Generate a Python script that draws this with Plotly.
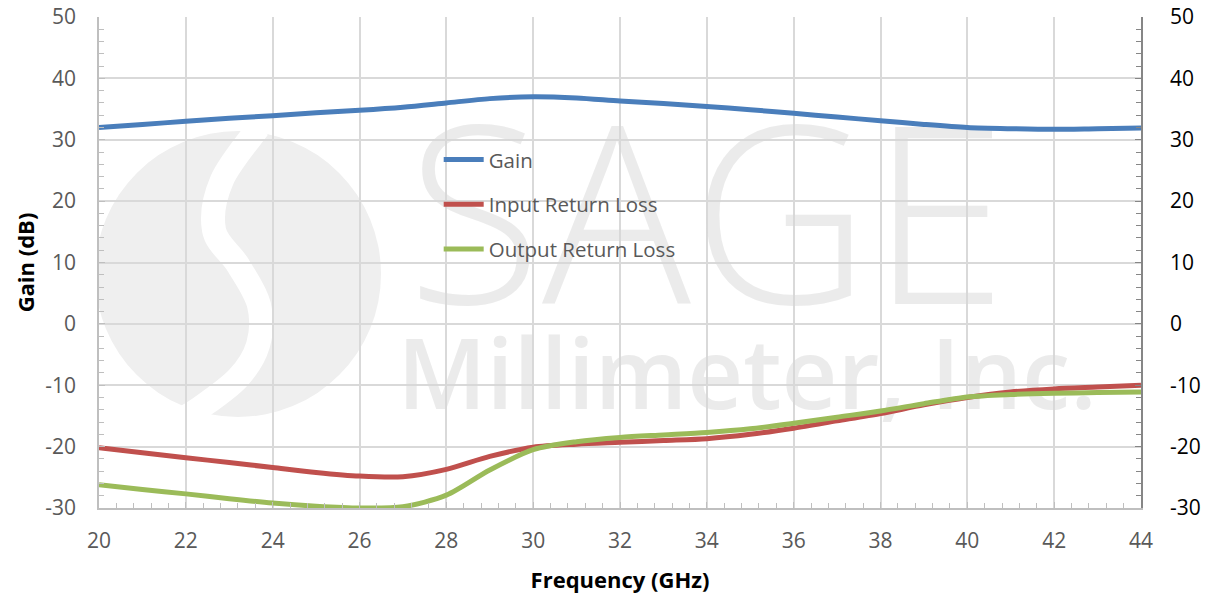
import plotly.graph_objects as go

freq = [20, 21, 22, 23, 24, 25, 26, 27, 28, 29, 30, 31, 32, 33, 34, 35, 36, 37, 38, 39, 40, 41, 42, 43, 44]
gain = [32.0, 32.5, 33.0, 33.5, 33.9, 34.4, 34.8, 35.3, 36.0, 36.7, 37.0, 36.8, 36.3, 35.9, 35.4, 34.9,
        34.3, 33.7, 33.1, 32.5, 32.0, 31.8, 31.7, 31.8, 31.9]
input_rl = [-20.2, -21.0, -21.8, -22.6, -23.4, -24.2, -24.8, -24.9, -23.7, -21.6, -20.1, -19.6, -19.3,
            -19.0, -18.7, -18.0, -17.0, -15.8, -14.6, -13.2, -12.0, -11.1, -10.6, -10.3, -10.0]
output_rl = [-26.2, -27.0, -27.7, -28.5, -29.2, -29.7, -30.0, -29.8, -27.9, -23.8, -20.5, -19.2, -18.5,
             -18.1, -17.7, -17.1, -16.2, -15.2, -14.2, -13.0, -11.9, -11.5, -11.3, -11.2, -11.1]
series_names = ["Gain", "Input Return Loss", "Output Return Loss"]
series_colors = ["#4A7EBB", "#C0504D", "#9BBB59"]
x_ticks = list(range(20, 45, 2))
y_ticks = list(range(-30, 51, 10))
y_ticktext = [str(v) for v in y_ticks]
x_title = "Frequency (GHz)"
y_title = "Gain (dB)"
wm_big = "SAGE"
wm_small = "Millimeter, Inc."

W, H = 1211, 594
ML, MR, MT, MB = 99, 70, 17, 86
XMIN, XMAX, YMIN, YMAX = 20, 44, -30, 50


def px(xp):
    return XMIN + (xp - ML) / (W - ML - MR) * (XMAX - XMIN)


def py(yp):
    return YMAX - (yp - MT) / (H - MT - MB) * (YMAX - YMIN)


def catmull_path(pts):
    d = "M %f,%f" % (px(pts[0][0]), py(pts[0][1]))
    for i in range(len(pts) - 1):
        p0 = pts[i - 1] if i > 0 else pts[i]
        p1 = pts[i]
        p2 = pts[i + 1]
        p3 = pts[i + 2] if i + 2 < len(pts) else pts[i + 1]
        c1 = (p1[0] + (p2[0] - p0[0]) / 6, p1[1] + (p2[1] - p0[1]) / 6)
        c2 = (p2[0] - (p3[0] - p1[0]) / 6, p2[1] - (p3[1] - p1[1]) / 6)
        d += " C %f,%f %f,%f %f,%f" % (px(c1[0]), py(c1[1]), px(c2[0]), py(c2[1]), px(p2[0]), py(p2[1]))
    return d


fig = go.Figure()

# watermark text (drawn first so curves sit on top)
fig.add_trace(go.Scatter(
    x=[px(707), px(747)], y=[py(242), py(385)], mode="text",
    text=[wm_big, wm_small], showlegend=False, hoverinfo="skip",
    textfont=dict(family=["Open Sans", "Open Sans"], size=[248, 97], color="rgba(215,215,215,0.5)",
                  weight=[300, 600]),
))

all_series = [gain, input_rl, output_rl]
for i, (name, vals, col) in enumerate(zip(series_names, all_series, series_colors)):
    fig.add_trace(go.Scatter(
        x=freq, y=vals, name=name, mode="lines",
        line=dict(color=col, width=5, shape="spline", smoothing=0.8),
        legendgroup=name,
    ))

shapes = [
    dict(type="circle", xref="x", yref="y", x0=px(95), x1=px(381), y0=py(417), y1=py(131),
         fillcolor="#EFEFEF", line=dict(width=0), layer="below"),
    dict(type="path", xref="x", yref="y",
         path=catmull_path([(258, 128), (222, 180), (214, 230), (238, 265), (259, 305), (258, 345),
                            (238, 378), (200, 408), (180, 420)]),
         line=dict(color="white", width=24), fillcolor="rgba(0,0,0,0)", layer="below"),
]

fig.update_layout(
    width=W, height=H,
    margin=dict(l=ML, r=MR, t=MT, b=MB, pad=0, autoexpand=False),
    paper_bgcolor="white", plot_bgcolor="white",
    shapes=shapes,
    font=dict(family="Open Sans", color="#595959"),
    legend=dict(x=0.326, y=0.75, xanchor="left", yanchor="top", bgcolor="rgba(0,0,0,0)",
                font=dict(size=20.5, color="#595959", family="Open Sans"), tracegroupgap=15,
                itemwidth=40),
    xaxis=dict(range=[XMIN, XMAX], tickvals=x_ticks, showgrid=True, gridcolor="#D9D9D9", gridwidth=1.5,
               showline=True, linecolor="#BFBFBF", linewidth=1.5, ticks="inside", ticklen=6,
               tickcolor="#BFBFBF", tickfont=dict(size=21, color="#595959"),
               minor=dict(dtick=0.4, ticks="inside", ticklen=5, tickcolor="#BFBFBF", showgrid=False),
               title=dict(text="<b>" + x_title + "</b>", font=dict(size=22, color="black"), standoff=20),
               zeroline=False, fixedrange=True, automargin=False, ticklabelstandoff=13),
    yaxis=dict(range=[YMIN, YMAX], tickvals=y_ticks, ticktext=y_ticktext, showgrid=True,
               gridcolor="#D9D9D9", gridwidth=1.5,
               showline=True, linecolor="#BFBFBF", linewidth=1.5, ticks="inside", ticklen=6,
               tickcolor="#BFBFBF", tickfont=dict(size=21, color="#595959"),
               minor=dict(dtick=2, ticks="inside", ticklen=5, tickcolor="#BFBFBF", showgrid=False),
               title=dict(text="<b>" + y_title + "</b>", font=dict(size=22, color="black"), standoff=5),
               zeroline=False, ticklabelstandoff=17, automargin=False, fixedrange=True),
    yaxis2=dict(range=[YMIN, YMAX], tickvals=y_ticks, ticktext=y_ticktext, overlaying="y", side="right",
                showgrid=False,
                showline=True, linecolor="#868686", linewidth=1.5, ticks="inside", ticklen=6,
                tickcolor="#868686", tickfont=dict(size=21, color="black"),
                minor=dict(dtick=2, ticks="inside", ticklen=5, tickcolor="#868686", showgrid=False),
                zeroline=False, ticklabelstandoff=23, automargin=False, fixedrange=True),
)
# invisible trace to bind the right-hand axis
fig.add_trace(go.Scatter(x=freq, y=gain, yaxis="y2", mode="lines", line=dict(width=0),
                         opacity=0, showlegend=False, hoverinfo="skip"))

fig.write_html("out.html", config={"displayModeBar": False},
               post_script="document.body.style.margin='0';")
